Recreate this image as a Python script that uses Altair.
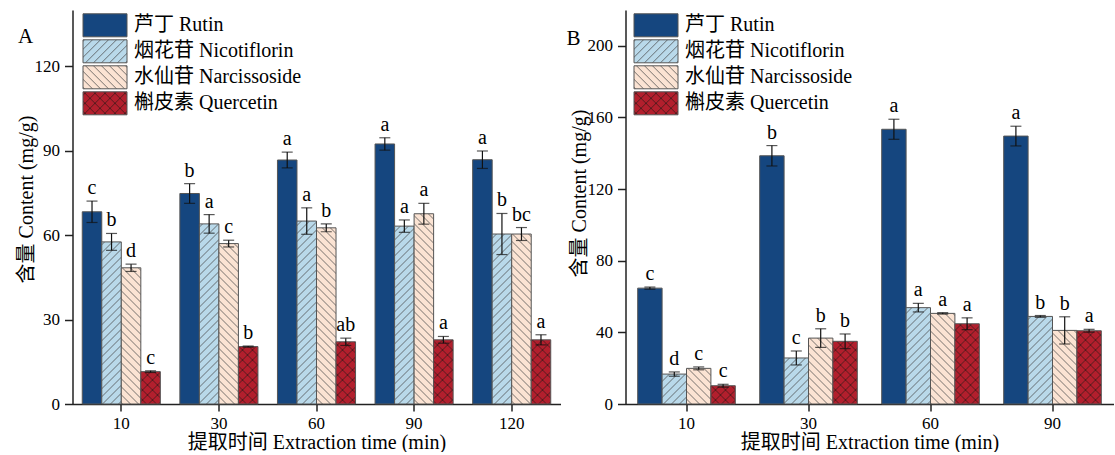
import re
import altair as alt
import pandas as pd
import jinja2

# ---------------- data ----------------
compounds = ["芦丁 Rutin", "烟花苷 Nicotiflorin", "水仙苷 Narcissoside", "槲皮素 Quercetin"]

# Panel A
times_a = ["10", "30", "60", "90", "120"]
a_rutin = [68.3, 74.8, 86.7, 92.4, 86.8]
a_rutin_sd = [3.8, 3.5, 2.8, 2.2, 3.1]
a_nico = [57.6, 64.0, 65.0, 63.2, 60.4]
a_nico_sd = [3.0, 3.3, 4.7, 2.2, 7.3]
a_narc = [48.4, 57.0, 62.6, 67.6, 60.4]
a_narc_sd = [1.3, 1.2, 1.4, 3.7, 2.3]
a_quer = [11.5, 20.4, 22.1, 22.8, 22.8]
a_quer_sd = [0.3, 0.2, 1.3, 1.2, 1.8]
a_let_rutin = ["c", "b", "a", "a", "a"]
a_let_nico = ["b", "a", "a", "a", "b"]
a_let_narc = ["d", "c", "b", "a", "bc"]
a_let_quer = ["c", "b", "ab", "a", "a"]
a_ticks = [0, 30, 60, 90, 120]

# Panel B
times_b = ["10", "30", "60", "90"]
b_rutin = [64.7, 138.6, 153.4, 149.6]
b_rutin_sd = [0.6, 5.7, 5.6, 5.5]
b_nico = [16.7, 25.7, 53.8, 48.9]
b_nico_sd = [1.2, 3.9, 2.4, 0.5]
b_narc = [19.9, 36.8, 50.6, 41.1]
b_narc_sd = [0.8, 5.2, 0.4, 7.6]
b_quer = [10.2, 35.0, 44.8, 40.9]
b_quer_sd = [0.8, 4.1, 3.3, 0.8]
b_let_rutin = ["c", "b", "a", "a"]
b_let_nico = ["d", "c", "a", "b"]
b_let_narc = ["c", "b", "a", "b"]
b_let_quer = ["c", "b", "a", "a"]
b_ticks = [0, 40, 80, 120, 160, 200]

# ---------------- style ----------------
SERIF = "'Liberation Serif', 'Times New Roman', 'Noto Sans CJK SC', serif"
FILLS = [
    "#15467f",
    "url(#hatchNico) #b9d9ea",
    "url(#hatchNarc) #fbe3d3",
    "url(#hatchQuer) #b21f2d",
]
DEFS = """
<svg width="0" height="0" style="position:absolute;width:0;height:0;overflow:hidden" aria-hidden="true">
 <defs>
  <pattern id="hatchNico" patternUnits="userSpaceOnUse" width="8" height="8">
   <rect x="0" y="0" width="8" height="8" fill="#b9d9ea"/>
   <path d="M-2,2 L2,-2 M0,8 L8,0 M6,10 L10,6" stroke="#4a4a4a" stroke-width="0.75"/>
  </pattern>
  <pattern id="hatchNarc" patternUnits="userSpaceOnUse" width="8" height="8">
   <rect x="0" y="0" width="8" height="8" fill="#fbe3d3"/>
   <path d="M-2,6 L2,10 M0,0 L8,8 M6,-2 L10,2" stroke="#4a4a4a" stroke-width="0.75"/>
  </pattern>
  <pattern id="hatchQuer" patternUnits="userSpaceOnUse" width="10" height="10">
   <rect x="0" y="0" width="10" height="10" fill="#b21f2d"/>
   <path d="M0,0 L10,10 M-2,8 L2,12 M8,-2 L12,2 M0,10 L10,0 M-2,2 L2,-2 M8,12 L12,8" stroke="#3a1a1a" stroke-width="0.75"/>
  </pattern>
 </defs>
</svg>
"""


def panel_frame(times, means, sds, letters):
    rows = []
    for ci, comp in enumerate(compounds):
        for ti, t in enumerate(times):
            m = means[ci][ti]
            s = sds[ci][ti]
            rows.append({"time": t, "compound": comp, "value": m,
                         "lo": m - s, "hi": m + s, "letter": letters[ci][ti]})
    return pd.DataFrame(rows)


df_a = panel_frame(times_a, [a_rutin, a_nico, a_narc, a_quer],
                   [a_rutin_sd, a_nico_sd, a_narc_sd, a_quer_sd],
                   [a_let_rutin, a_let_nico, a_let_narc, a_let_quer])
df_b = panel_frame(times_b, [b_rutin, b_nico, b_narc, b_quer],
                   [b_rutin_sd, b_nico_sd, b_narc_sd, b_quer_sd],
                   [b_let_rutin, b_let_nico, b_let_narc, b_let_quer])

XTITLE = "提取时间 Extraction time (min)"
YTITLE = "含量  Content (mg/g)"


def panel(df, times, ymax, yticks, tag, tag_x, tag_y, legend_x, title_y):
    x = alt.X("time:N", sort=times, title=XTITLE,
              scale=alt.Scale(paddingInner=0.2, paddingOuter=0.1),
              axis=alt.Axis(labelAngle=0, tickSize=7, labelPadding=4, titlePadding=1))
    xo = alt.XOffset("compound:N", sort=compounds,
                     scale=alt.Scale(paddingInner=0, paddingOuter=0))
    ysc = alt.Scale(domain=[0, ymax], nice=False)
    yax = alt.Axis(values=yticks, tickSize=8, labelPadding=5, titlePadding=-2,
                   titleY=title_y)
    base = alt.Chart(df)
    bars = base.mark_bar(stroke="#555555", strokeWidth=1).encode(
        x=x, xOffset=xo,
        y=alt.Y("value:Q", scale=ysc, axis=yax, title=YTITLE),
        fill=alt.Fill("compound:N", sort=compounds,
                      scale=alt.Scale(domain=compounds, range=FILLS),
                      legend=alt.Legend(title=None, orient="none",
                                        legendX=legend_x, legendY=3.3,
                                        symbolType="M-1.913,-1H1.913V1H-1.913Z",
                                        symbolSize=529,
                                        symbolStrokeColor="#555555",
                                        symbolStrokeWidth=1,
                                        symbolOpacity=1,
                                        labelFont=SERIF, labelFontSize=20,
                                        labelColor="black",
                                        labelOffset=17, labelLimit=400,
                                        rowPadding=-2.7)),
    )
    rules = base.mark_rule(color="#111111", strokeWidth=1.2).encode(
        x=x, xOffset=xo,
        y=alt.Y("lo:Q", scale=ysc, title=YTITLE), y2="hi:Q")
    cap_hi = base.mark_tick(color="#111111", size=11, thickness=1.2).encode(
        x=x, xOffset=xo, y=alt.Y("hi:Q", scale=ysc, title=YTITLE))
    cap_lo = base.mark_tick(color="#111111", size=11, thickness=1.2).encode(
        x=x, xOffset=xo, y=alt.Y("lo:Q", scale=ysc, title=YTITLE))
    letters = base.mark_text(baseline="bottom", dy=-3, fontSize=20, font=SERIF,
                             color="black").encode(
        x=x, xOffset=xo, y=alt.Y("hi:Q", scale=ysc, title=YTITLE), text="letter:N")
    tag_chart = alt.Chart(pd.DataFrame({"tag": [tag]})).mark_text(
        font=SERIF, fontSize=21, align="center", baseline="alphabetic",
        color="black").encode(x=alt.value(tag_x), y=alt.value(tag_y), text="tag:N")
    return alt.layer(bars, rules, cap_lo, cap_hi, letters, tag_chart).properties(
        width=488, height=394)


left = panel(df_a, times_a, 140, a_ticks, "A", -47, 33, 20.5, 189)
right = panel(df_b, times_b, 220, b_ticks, "B", -52, 35, 18.5, 183)

chart = alt.hconcat(left, right, spacing=65, bounds="flush").resolve_scale(
    x="independent", y="independent", fill="independent", xOffset="independent"
).resolve_legend(fill="independent").properties(
    padding={"left": 15.5, "top": 10, "right": 0, "bottom": 0}
).configure_view(stroke=None).configure_axis(
    domainColor="#222222", domainWidth=1.5, tickColor="#222222", tickWidth=1.5,
    labelFont=SERIF, labelFontSize=17, labelColor="black",
    titleFont=SERIF, titleFontSize=20, titleColor="black", titleFontWeight="normal",
    grid=False,
)


class _PatternTemplate(jinja2.Template):
    def render(self, *args, **kwargs):
        from altair.utils.html import TEMPLATES
        html = TEMPLATES["standard"].render(*args, **kwargs)
        return re.sub(r"<body[^>]*>", lambda m: m.group(0) + DEFS, html, count=1)


try:
    chart.save("out.html", embed_options={"renderer": "svg", "actions": False},
               template=_PatternTemplate("{{ spec }}"))
except Exception:
    chart.save("out.html", embed_options={"renderer": "svg", "actions": False})
